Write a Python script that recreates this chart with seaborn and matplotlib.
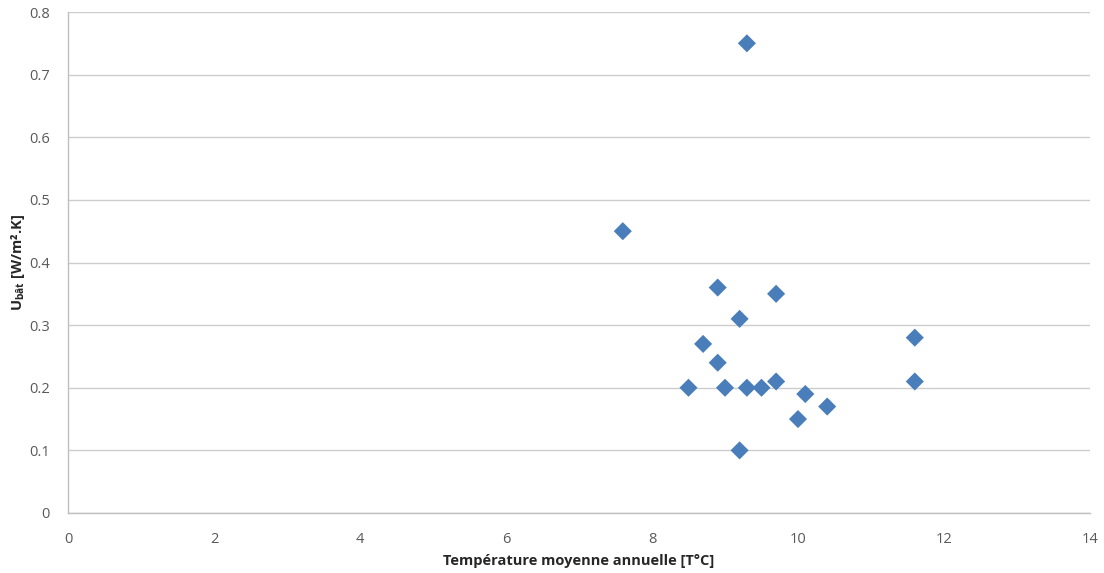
import matplotlib
matplotlib.use("Agg")
import matplotlib.pyplot as plt
import seaborn as sns
import pandas as pd

# Données
temperature = [7.6, 9.3, 8.5, 8.7, 8.9, 8.9, 9.0, 9.2, 9.2, 9.3, 9.5, 9.7, 9.7, 10.1, 10.0, 10.4, 11.6, 11.6]
u_bat = [0.45, 0.75, 0.20, 0.27, 0.36, 0.24, 0.20, 0.31, 0.10, 0.20, 0.20, 0.35, 0.21, 0.19, 0.15, 0.17, 0.28, 0.21]
x_ticks = [0, 2, 4, 6, 8, 10, 12, 14]
y_ticks = [0, 0.1, 0.2, 0.3, 0.4, 0.5, 0.6, 0.7, 0.8]

df = pd.DataFrame({"temperature": temperature, "u_bat": u_bat})

sns.set_style("white")
plt.rcParams['font.family'] = ['Open Sans', 'DejaVu Sans']
plt.rcParams['mathtext.fontset'] = 'custom'
plt.rcParams['mathtext.rm'] = 'Open Sans'
plt.rcParams['mathtext.bf'] = 'Open Sans:bold'

fig = plt.figure(figsize=(11.04, 5.73), dpi=100)
ax = fig.add_axes([68 / 1104, 1 - 513 / 573, (1090 - 68) / 1104, (513 - 12) / 573])

sns.scatterplot(data=df, x="temperature", y="u_bat", marker="D", s=85,
                color="#4a7ebb", edgecolor="none", ax=ax, zorder=3)

ax.set_xlim(0, 14)
ax.set_ylim(0, 0.8)
ax.set_xticks(x_ticks)
ax.set_yticks(y_ticks)
ax.set_xticklabels([str(t) for t in x_ticks])
ax.set_yticklabels(["0" if t == 0 else f"{t:.1f}" for t in y_ticks])
ax.tick_params(axis="both", labelsize=10.5, colors="#595959", length=0)
ax.tick_params(axis="x", pad=14)
ax.tick_params(axis="y", pad=13)

ax.yaxis.grid(True, color="#cccccc", linewidth=1)
ax.xaxis.grid(False)
for side in ["top", "right"]:
    ax.spines[side].set_visible(False)
for side in ["left", "bottom"]:
    ax.spines[side].set_color("#bfbfbf")
    ax.spines[side].set_linewidth(1)

ax.set_xlabel("Température moyenne annuelle [T°C]", fontsize=10.5, fontweight="bold", color="#262626", labelpad=5)
ax.set_ylabel(r"$\mathbf{U_{bât}}$ [W/m².K]", fontsize=10.5, fontweight="bold", color="#262626")
ax.yaxis.set_label_coords((27 - 68) / 1022, 0.5)

fig.savefig("out.png", dpi=100)
